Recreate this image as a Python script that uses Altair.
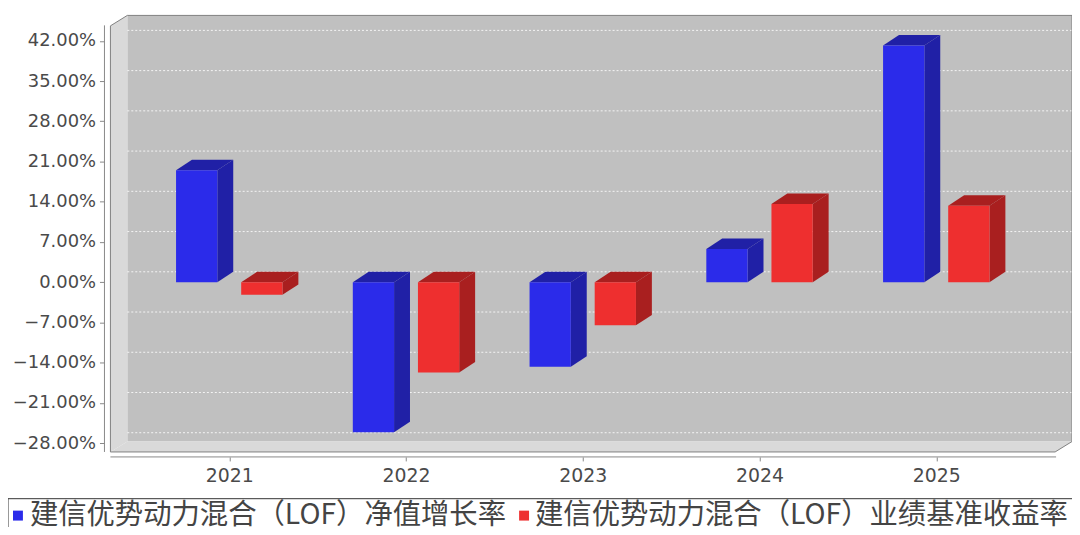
import altair as alt
import pandas as pd

# ---------------- data ----------------
years = ["2021", "2022", "2023", "2024", "2025"]
series_names = ["建信优势动力混合（LOF）净值增长率", "建信优势动力混合（LOF）业绩基准收益率"]
nav_growth = [19.5, -26.1, -14.7, 5.8, 41.2]
benchmark = [-2.2, -15.7, -7.5, 13.6, 13.3]
y_ticks = [-28, -21, -14, -7, 0, 7, 14, 21, 28, 35, 42]

# ---------------- style ----------------
front_colors = ["#2b2bea", "#ee2f2f"]
dark_colors = ["#2020a6", "#a91f1f"]
W, H = 967, 439
X_DOMAIN = [-0.6723, 4.7679]          # category-index units
Y_DOMAIN = [-29.53, 46.42]            # percent units
CAT_PX = W / (X_DOMAIN[1] - X_DOMAIN[0])
PCT_PX = H / (Y_DOMAIN[1] - Y_DOMAIN[0])
DXW, DYW = 17 / CAT_PX, 10.5 / PCT_PX  # wall depth
DXB, DYB = 16 / CAT_PX, 10.5 / PCT_PX  # bar depth
HALF = 20.75 / CAT_PX
OFFS = [-32.75 / CAT_PX, 32.75 / CAT_PX]
XA, XB = X_DOMAIN
YA, YB = Y_DOMAIN
LEG_FONT = "Noto Sans CJK SC"
LEG_SYM_X = [-93, 416]     # legend symbol centres (px from plot origin)
LEG_TXT_X = [-81, 427]     # legend text starts
LEG_Y = 503

xs = alt.Scale(domain=X_DOMAIN, nice=False, zero=False)
ys = alt.Scale(domain=Y_DOMAIN, nice=False, zero=False)

# ---------------- derived tables ----------------
front_rows, side_rows, top_rows = [], [], []
for s, vals in enumerate([nav_growth, benchmark]):
    for i, v in enumerate(vals):
        c = i + OFFS[s]
        x1, x2 = c - HALF, c + HALF
        lo, hi = min(0, v), max(0, v)
        bid = f"{s}-{i}"
        front_rows.append(dict(series=series_names[s], x1=x1, x2=x2, lo=lo, hi=hi, year=years[i], value=v))
        side_rows += [
            dict(id=bid, dark=dark_colors[s], x=x2, y=lo, y2=hi),
            dict(id=bid, dark=dark_colors[s], x=x2 + DXB, y=lo + DYB, y2=hi + DYB),
        ]
        top_rows += [
            dict(id=bid, dark=dark_colors[s], x=x1, y=hi, y2=hi),
            dict(id=bid, dark=dark_colors[s], x=x1 + DXB, y=hi, y2=hi + DYB),
            dict(id=bid, dark=dark_colors[s], x=x2, y=hi, y2=hi + DYB),
            dict(id=bid, dark=dark_colors[s], x=x2 + DXB, y=hi + DYB, y2=hi + DYB),
        ]
front_df = pd.DataFrame(front_rows)
side_df = pd.DataFrame(side_rows)
top_df = pd.DataFrame(top_rows)

back_df = pd.DataFrame([dict(x=XA + DXW, x2=XB, y=YA + DYW, y2=YB)])
left_df = pd.DataFrame([dict(x=XA, y=YA, y2=YB - DYW), dict(x=XA + DXW, y=YA + DYW, y2=YB)])
floor_df = pd.DataFrame([
    dict(x=XA, y=YA, y2=YA), dict(x=XA + DXW, y=YA, y2=YA + DYW),
    dict(x=XB - DXW, y=YA, y2=YA + DYW), dict(x=XB, y=YA + DYW, y2=YA + DYW),
])
outline_df = pd.DataFrame([
    dict(o=0, x=XA, y=YA), dict(o=1, x=XA, y=YB - DYW), dict(o=2, x=XA + DXW, y=YB),
    dict(o=3, x=XB, y=YB), dict(o=4, x=XB, y=YA + DYW), dict(o=5, x=XB - DXW, y=YA),
    dict(o=6, x=XA, y=YA),
])
grid_df = pd.DataFrame(dict(t=y_ticks))
one = pd.DataFrame(dict(a=[0]))

def X(f):
    return alt.X(f, scale=xs, title=None)

def Y(f):
    return alt.Y(f, scale=ys, title=None)

year_expr = "[" + ",".join(f"'{y}'" for y in years) + "][datum.value]"

# ---------------- layers ----------------
back = alt.Chart(back_df).mark_rect(fill="#c0c0c0").encode(
    x=alt.X("x:Q", scale=xs, title=None, axis=alt.Axis(
        values=list(range(len(years))), labelExpr=year_expr, grid=False, domain=False,
        offset=5, tickSize=4, tickColor="#888888", labelFontSize=19, labelFont="DejaVu Sans",
        labelColor="#4a4a4a", labelPadding=6)),
    x2="x2:Q",
    y=alt.Y("y:Q", scale=ys, title=None, axis=alt.Axis(
        values=y_ticks, labelExpr="format(datum.value, '.2f') + '%'", grid=False, domain=False,
        offset=6, tickSize=5, tickColor="#888888", labelFontSize=18, labelFont="DejaVu Sans",
        labelColor="#4a4a4a", labelPadding=4)),
    y2="y2:Q")
left = alt.Chart(left_df).mark_area(fill="#d9d9d9").encode(x=X("x:Q"), y=Y("y:Q"), y2="y2:Q")
floor = alt.Chart(floor_df).mark_area(fill="#d9d9d9").encode(x=X("x:Q"), y=Y("y:Q"), y2="y2:Q")
grid = alt.Chart(grid_df).transform_calculate(
    gy=f"datum.t + {DYW}", gx1=f"{XA + DXW}", gx2=f"{XB}"
).mark_rule(color="#f4f4f4", strokeDash=[2, 2], strokeWidth=1).encode(
    x=X("gx1:Q"), x2="gx2:Q", y=Y("gy:Q"))
outline = alt.Chart(outline_df).mark_line(color="#808080", strokeWidth=1).encode(
    x=X("x:Q"), y=Y("y:Q"), order="o:Q")

sides = alt.Chart(side_df).mark_area().encode(
    x=X("x:Q"), y=Y("y:Q"), y2="y2:Q", detail="id:N", color=alt.Color("dark:N", scale=None))
tops = alt.Chart(top_df).mark_area().encode(
    x=X("x:Q"), y=Y("y:Q"), y2="y2:Q", detail="id:N", color=alt.Color("dark:N", scale=None))
fronts = alt.Chart(front_df).mark_rect().encode(
    x=X("x1:Q"), x2="x2:Q", y=Y("lo:Q"), y2="hi:Q",
    color=alt.Color("series:N", scale=alt.Scale(domain=series_names, range=front_colors), legend=None),
    tooltip=["year:N", "value:Q"])

yline = alt.Chart(one).mark_rule(color="#888888").encode(
    x=alt.value(-6), y=alt.value(10), y2=alt.value(H))
xline = alt.Chart(one).mark_rule(color="#888888").encode(
    x=alt.value(0), x2=alt.value(W - 16), y=alt.value(H + 5))

# ---------------- legend (drawn as marks) ----------------
leg_df = pd.DataFrame(dict(name=series_names, color=front_colors, sx=LEG_SYM_X, tx=LEG_TXT_X))
leg_box = alt.Chart(one).mark_rect(fill="white", stroke="#333333", strokeWidth=1).encode(
    x=alt.value(-103), x2=alt.value(W + 40), y=alt.value(486), y2=alt.value(H + 120))
leg_sym = alt.Chart(leg_df).mark_square(size=100, opacity=1).encode(
    x=alt.X("sx:Q", scale=None), y=alt.value(LEG_Y), color=alt.Color("color:N", scale=None))
leg_txt = alt.Chart(leg_df).mark_text(align="left", baseline="middle", fontSize=28.5,
                                      font=LEG_FONT, color="#444444").encode(
    x=alt.X("tx:Q", scale=None), y=alt.value(LEG_Y - 1), text="name:N")

chart = alt.layer(back, left, floor, grid, outline, sides, tops, fronts, yline, xline,
                  leg_box, leg_sym, leg_txt).properties(
    width=W, height=H,
    padding={"left": 103, "top": 6, "right": 0, "bottom": 74},
    autosize=alt.AutoSizeParams(type="none"),
    background="white",
).configure_view(stroke=None)

chart.save("out.html", embed_options={"renderer": "svg", "actions": False})
